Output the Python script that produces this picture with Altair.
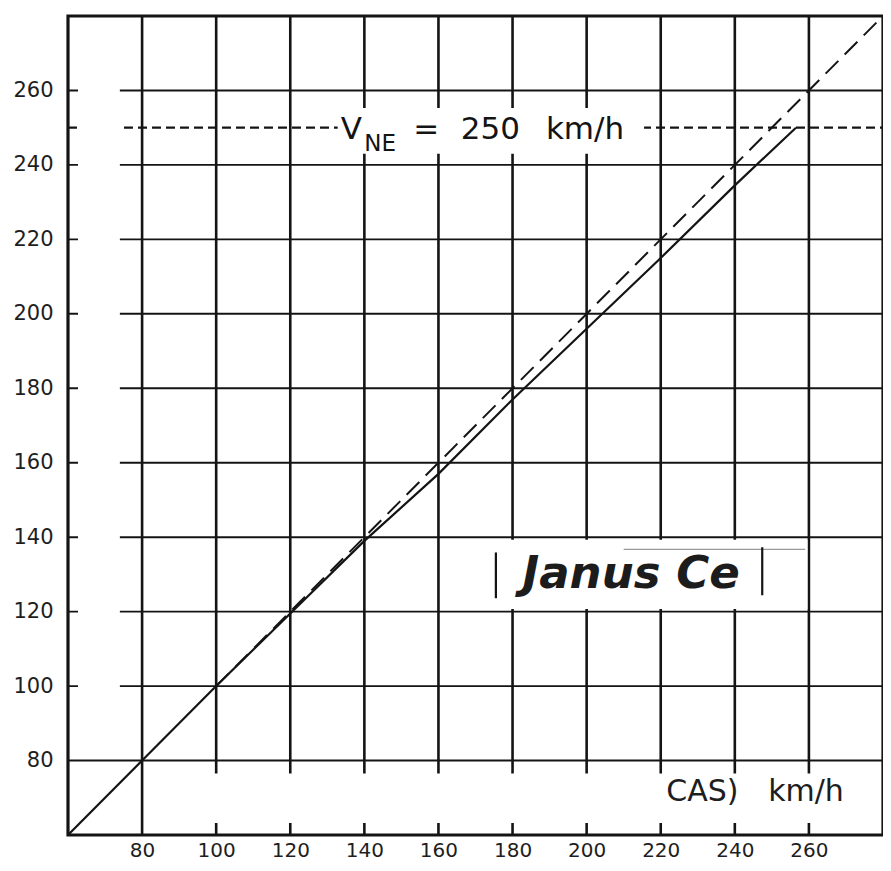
import altair as alt
import pandas as pd

# ---------------- data ----------------
axis_min, axis_max = 60, 280
grid_values = [80, 100, 120, 140, 160, 180, 200, 220, 240, 260]

# calibration curve (solid)
cal_x = [60, 80, 100, 120, 140, 160, 180, 200, 220, 240, 256.5]
cal_y = [60, 80, 100, 119.5, 139, 157, 177, 196, 215, 234.5, 250]

# ideal line (dashed)
ideal_x = [100, 280]
ideal_y = [100, 280]

vne_value = 250

# V_NE annotation
vne_main_text = ["V", "=", "250", "km/h"]
vne_main_x = [133.6, 153.2, 166.0, 189.0]
vne_sub_text = ["NE"]
vne_sub_x = [140.0]
vne_main_y = 247
vne_sub_y = 243.8
vne_bg = dict(x=132.8, x2=215.5, y=243.0, y2=255.3)

# axis caption fragment at bottom right
cas_text = ["CAS)", "km/h"]
cas_x = [221.5, 249.0]
cas_y = 69

# Janus Ce label
janus_text = ["Janus Ce"]
janus_x = [212]
janus_y = [130]
janus_bar_x = [175.5, 247.4]
janus_bar_y = [123.6, 124.4]
janus_bar_y2 = [135.9, 137.3]
janus_bg = dict(x=166, x2=259.6, y=120.7, y2=139.3)
janus_faint = dict(x=210, x2=259, y=136.7)

# white bands in the scanned grid
left_band = dict(x=62.7, x2=74.0, y=85, y2=275)
bottom_band = dict(x=83, x2=279.3, y=63.2, y2=76.5)

# ---------------- chart ----------------
INK = "#141414"
FONT = "DejaVu Sans"

xs = alt.Scale(domain=[axis_min, axis_max], nice=False, zero=False)
ys = alt.Scale(domain=[axis_min, axis_max], nice=False, zero=False)

x_axis = alt.Axis(values=grid_values, title=None, ticks=False, domain=False, grid=False,
                  labelFont=FONT, labelFontSize=20, labelColor="#1e1e1e", labelPadding=5)
y_axis = alt.Axis(values=grid_values, title=None, ticks=False, domain=False, grid=False,
                  labelFont=FONT, labelFontSize=21, labelColor="#1e1e1e", labelPadding=15)

vgrid_df = pd.DataFrame({"v": grid_values, "lo": axis_min, "hi": axis_max})
vgrid = alt.Chart(vgrid_df).mark_rule(color=INK, strokeWidth=2.6).encode(
    x=alt.X("v:Q", scale=xs, axis=x_axis),
    y=alt.Y("lo:Q", scale=ys, axis=y_axis),
    y2="hi:Q",
)
hgrid = alt.Chart(vgrid_df).mark_rule(color=INK, strokeWidth=1.9).encode(
    y=alt.Y("v:Q", scale=ys),
    x=alt.X("lo:Q", scale=xs),
    x2="hi:Q",
)

vne_df = pd.DataFrame({"y": [vne_value], "lo": [axis_min], "hi": [axis_max]})
vne_line = alt.Chart(vne_df).mark_rule(color=INK, strokeWidth=2.2, strokeDash=[9, 5]).encode(
    y=alt.Y("y:Q", scale=ys), x=alt.X("lo:Q", scale=xs), x2="hi:Q"
)

def white_rect(d):
    df = pd.DataFrame([d])
    return alt.Chart(df).mark_rect(color="white").encode(
        x=alt.X("x:Q", scale=xs), x2="x2:Q", y=alt.Y("y:Q", scale=ys), y2="y2:Q"
    )

rects = [white_rect(left_band), white_rect(bottom_band), white_rect(vne_bg), white_rect(janus_bg)]

ideal_df = pd.DataFrame({"x": ideal_x, "y": ideal_y})
ideal = alt.Chart(ideal_df).mark_line(color=INK, strokeWidth=2.0, strokeDash=[18, 9]).encode(
    x=alt.X("x:Q", scale=xs), y=alt.Y("y:Q", scale=ys)
)

cal_df = pd.DataFrame({"x": cal_x, "y": cal_y})
cal = alt.Chart(cal_df).mark_line(color=INK, strokeWidth=2.2).encode(
    x=alt.X("x:Q", scale=xs), y=alt.Y("y:Q", scale=ys)
)

frame_df = pd.DataFrame({"x": [axis_min], "x2": [axis_max], "y": [axis_min], "y2": [axis_max]})
frame = alt.Chart(frame_df).mark_rect(fill=None, stroke=INK, strokeWidth=3.2).encode(
    x=alt.X("x:Q", scale=xs), x2="x2:Q", y=alt.Y("y:Q", scale=ys), y2="y2:Q"
)

vne_main_df = pd.DataFrame({"t": vne_main_text, "x": vne_main_x, "y": vne_main_y})
vne_main = alt.Chart(vne_main_df).mark_text(
    font=FONT, fontSize=31, color=INK, align="left", baseline="alphabetic"
).encode(x=alt.X("x:Q", scale=xs), y=alt.Y("y:Q", scale=ys), text="t:N")

vne_sub_df = pd.DataFrame({"t": vne_sub_text, "x": vne_sub_x, "y": vne_sub_y})
vne_sub = alt.Chart(vne_sub_df).mark_text(
    font=FONT, fontSize=23, color=INK, align="left", baseline="alphabetic"
).encode(x=alt.X("x:Q", scale=xs), y=alt.Y("y:Q", scale=ys), text="t:N")

cas_df = pd.DataFrame({"t": cas_text, "x": cas_x, "y": cas_y})
cas = alt.Chart(cas_df).mark_text(
    font=FONT, fontSize=30, color="#1e1e1e", align="left", baseline="alphabetic"
).encode(x=alt.X("x:Q", scale=xs), y=alt.Y("y:Q", scale=ys), text="t:N")

janus_df = pd.DataFrame({"t": janus_text, "x": janus_x, "y": janus_y})
janus = alt.Chart(janus_df).mark_text(
    font=FONT, fontSize=45, fontWeight="bold", fontStyle="italic", color="#1c1c1c",
    align="center", baseline="middle"
).encode(x=alt.X("x:Q", scale=xs), y=alt.Y("y:Q", scale=ys), text="t:N")

bars_df = pd.DataFrame({"x": janus_bar_x, "y": janus_bar_y, "y2": janus_bar_y2})
bars = alt.Chart(bars_df).mark_rule(color=INK, strokeWidth=2.2).encode(
    x=alt.X("x:Q", scale=xs), y=alt.Y("y:Q", scale=ys), y2="y2:Q"
)

faint_df = pd.DataFrame([janus_faint])
faint = alt.Chart(faint_df).mark_rule(color="#999", strokeWidth=1.2).encode(
    x=alt.X("x:Q", scale=xs), x2="x2:Q", y=alt.Y("y:Q", scale=ys)
)

chart = alt.layer(
    vgrid, hgrid, vne_line, *rects, ideal, cal, faint, bars, frame,
    janus, vne_main, vne_sub, cas
).properties(
    width=815, height=819,
    autosize=alt.AutoSizeParams(type="none"),
    padding={"left": 60, "top": 8, "right": 0, "bottom": 28},
).configure_view(
    stroke=None
)

chart.save("out.html", embed_options={"renderer": "svg", "actions": False})
